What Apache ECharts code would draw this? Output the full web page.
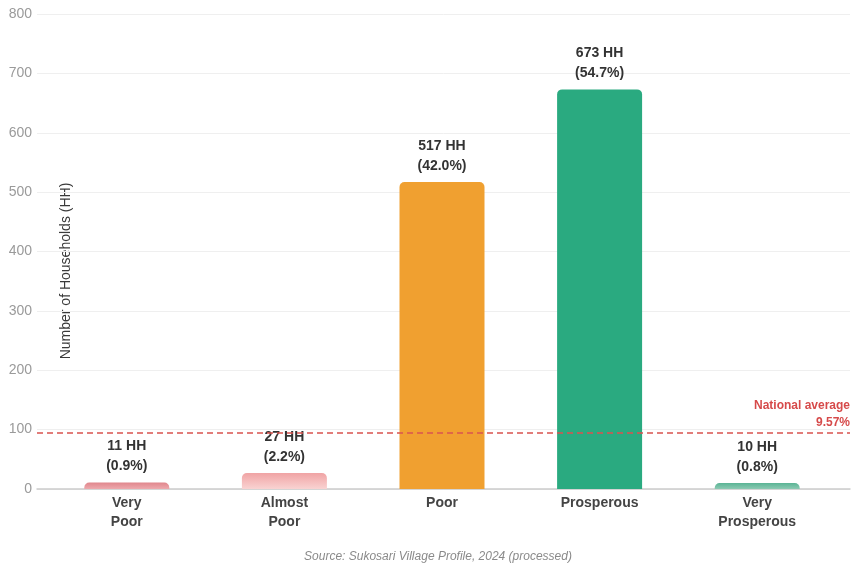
<!DOCTYPE html>
<html>
<head>
<meta charset="utf-8">
<script src="https://cdn.jsdelivr.net/npm/echarts@6/dist/echarts.min.js"></script>
<style>
  html, body { margin: 0; padding: 0; background: #fff; }
  #chart { width: 853px; height: 567px; }
</style>
</head>
<body>
<div id="chart"></div>
<script>
// Household welfare categories, Sukosari village
const categories = ['Very\nPoor', 'Almost\nPoor', 'Poor', 'Prosperous', 'Very\nProsperous'];
const households = [11, 27, 517, 673, 10];
const shares = ['0.9%', '2.2%', '42.0%', '54.7%', '0.8%'];
const barColors = [
  ['#e0868c', '#eda9ad'],
  ['#f0a3a4', '#f9d3d2'],
  ['#f0a030', '#f0a030'],
  ['#2aaa80', '#2aaa80'],
  ['#5bb495', '#8ccab3']
];
const yTicks = { min: 0, max: 800, interval: 100 };
const nationalAverage = 95;
const nationalAverageLabel = 'National average\n9.57%';

const chart = echarts.init(document.getElementById('chart'));

const barData = households.map((v, i) => ({
  value: v,
  itemStyle: {
    color: new echarts.graphic.LinearGradient(0, 0, 0, 1, [
      { offset: 0, color: barColors[i][0] },
      { offset: 1, color: barColors[i][1] }
    ])
  },
  label: { formatter: v + ' HH\n(' + shares[i] + ')' }
}));

const font = 'Liberation Sans, Arial, sans-serif';

chart.setOption({
  animation: false,
  backgroundColor: '#fff',
  grid: [
    { left: 37, right: 3, top: 14, bottom: 78 },
    { left: 48, right: 17, top: 14, bottom: 78 }
  ],
  xAxis: [
    {
      type: 'category', gridIndex: 0, data: categories,
      axisLine: { show: true, lineStyle: { color: '#cccccc', width: 1.5 } },
      axisTick: { show: false }, axisLabel: { show: false }
    },
    {
      type: 'category', gridIndex: 1, data: categories,
      axisLine: { show: false }, axisTick: { show: false },
      axisLabel: {
        margin: 5, color: '#444', fontSize: 14, fontWeight: 'bold',
        fontFamily: font, lineHeight: 19
      }
    }
  ],
  yAxis: [
    {
      type: 'value', gridIndex: 0, min: yTicks.min, max: yTicks.max, interval: yTicks.interval,
      axisLine: { show: false }, axisTick: { show: false },
      axisLabel: { color: '#9a9a9a', fontSize: 14, fontFamily: font, margin: 5 },
      splitLine: { lineStyle: { color: '#efefef', width: 1 } }
    },
    {
      type: 'value', gridIndex: 1, min: yTicks.min, max: yTicks.max, interval: yTicks.interval,
      show: false, splitLine: { show: false }
    }
  ],
  series: [
    {
      type: 'line', xAxisIndex: 0, yAxisIndex: 0, data: [],
      silent: true,
      markLine: {
        symbol: 'none', silent: true,
        lineStyle: { color: '#d9534f', type: [6, 4], width: 1.5 },
        label: {
          position: 'insideEndTop', formatter: nationalAverageLabel,
          color: '#d64a4a', fontSize: 12, fontWeight: 'bold', fontFamily: font,
          align: 'right', lineHeight: 17, distance: [0, 1]
        },
        data: [{ yAxis: nationalAverage }]
      }
    },
    {
      type: 'bar', xAxisIndex: 1, yAxisIndex: 1, data: barData,
      barWidth: 85,
      itemStyle: { borderRadius: [5, 5, 0, 0] },
      label: {
        show: true, position: 'top', distance: 6,
        color: '#333', fontSize: 14, fontWeight: 'bold', fontFamily: font,
        lineHeight: 20
      }
    }
  ],
  graphic: [
    {
      type: 'text', x: 66, y: 271, rotation: Math.PI / 2,
      style: {
        text: 'Number of Households (HH)', fill: '#3a3a3a', fontSize: 14,
        fontFamily: font, align: 'center', verticalAlign: 'middle'
      }
    },
    {
      type: 'text', x: 438, y: 557,
      style: {
        text: 'Source: Sukosari Village Profile, 2024 (processed)', fill: '#8a8a8a',
        fontSize: 12, fontStyle: 'italic', fontFamily: font,
        align: 'center', verticalAlign: 'middle'
      }
    }
  ]
});
</script>
</body>
</html>
